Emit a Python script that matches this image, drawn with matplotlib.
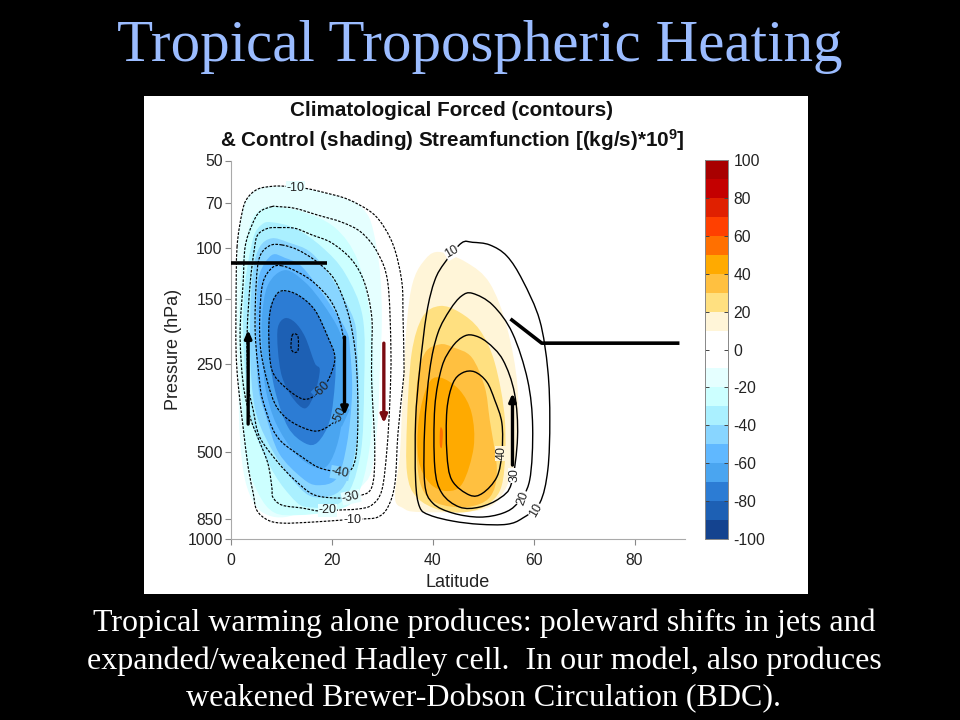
import numpy as np
import matplotlib
matplotlib.use('Agg')
import matplotlib.pyplot as plt
from matplotlib.patches import Rectangle, PathPatch
from matplotlib.path import Path
from matplotlib.colors import ListedColormap, BoundaryNorm
from matplotlib.cm import ScalarMappable

# ---- data: (latitude, pressure hPa) ----
# dashed contours (negative streamfunction)
cn10 = [(1.2,99),(2.2,75.5),(3.2,67.5),(5.3,62.7),(8.3,61.3),(10.7,61.3),(14.7,62.3),(18.6,64.5),(23.2,68),(27.9,75.5),(30.5,85.5),(32.5,101.5),(33.9,132),(34.1,172),(34.3,256),(34.1,291),(33.1,432),(32.5,642),(31.1,775),(29.1,839),(25.9,852),(22,859),(16,873),(10.3,880),(7.3,859),(5.1,794),(4.4,694),(3.4,565),(2.4,412),(1.4,291),(1.0,224),(1.0,151)]
cn20 = [(8.1,72),(5.7,75),(4.2,83),(2.8,99),(2.4,132),(1.8,196),(2.4,291),(3.8,381),(5.3,446),(7.3,548),(8.1,663),(8.3,717),(10.1,763),(14.1,781),(17.6,800),(21,794),(25.1,787),(27.9,763),(29.9,678),(30.9,494),(31.5,333),(31.7,224),(31.1,132),(29.1,104),(25.9,88.5),(22,81.5),(17.2,77),(12.7,73),(9.3,72)]
cn30 = [(9.7,85),(7.3,85.5),(5.3,90),(4.6,101.5),(3.8,132),(3.2,196),(3.4,291),(4.4,360),(5.7,446),(9.3,544),(12.7,627),(16.6,705),(22,722),(25.1,711),(27.9,663),(28.5,494),(27.9,291),(27.9,224),(27.9,172),(26.5,132),(24,110),(20,96),(16,90),(12.7,85.5)]
cn40 = [(10.1,97.5),(7.7,98),(5.7,107),(5,132),(4.8,196),(5.7,291),(6.3,333),(8.1,412),(10.1,464),(14.1,522),(17.2,565),(20.2,583),(23.2,587),(24.6,535),(25.1,432),(25.1,307),(24.6,224),(23.2,167),(20.6,129),(17.2,112),(13.3,101.5)]
cn50 = [(10.1,115),(8.1,117),(6.3,132),(5.7,172),(5.9,224),(7.3,291),(9.1,352),(12.1,396),(16.6,425),(19.6,406),(21.4,375),(22.4,333),(22.6,256),(22,191),(20,154),(16.6,132),(13.3,121)]
cn60 = [(10.3,140),(8.7,147),(7.7,167),(7.5,202),(8.1,262),(10.7,300),(14.3,330),(17,319),(18,307),(19.6,276),(20.6,237),(19.2,202),(16.6,163),(13.3,145)]
cn70 = [(12.1,200),(12.7,197),(13.3,202),(13.3,224),(12.5,228),(11.9,220)]

# solid contours (positive streamfunction)
cp10 = [(45.7,96),(47.9,95.5),(51.3,97.5),(54.7,106.5),(57.8,129),(61.2,177),(62.8,262),(63.2,390),(62.8,578),(61.2,751),(57.8,846),(54.7,888),(49.3,888),(44,866),(39.4,826),(37.4,775),(36.6,627),(36.6,390),(37.4,262),(38.8,167),(40.4,129),(42.4,112)]
cp20 = [(47.9,143),(45.7,146),(43.4,163),(41,196),(39.4,262),(38.4,412),(38.4,642),(40,751),(44,813),(49.3,839),(53.9,813),(56.8,751),(59.2,627),(59.8,412),(58.8,284),(55.8,196),(51.9,157)]
cp30 = [(47.9,199),(45.9,202),(43.8,219),(41.8,256),(40.4,352),(40.4,565),(41.8,694),(45.3,775),(49.3,775),(53.3,722),(55.6,642),(56.8,446),(56.2,315),(53.9,242),(50.7,210)]
cp40 = [(48.3,266),(45.9,268),(44,291),(42.8,360),(42.8,506),(43.8,627),(47.3,705),(49.9,694),(52.7,611),(53.7,506),(53.7,399),(52.3,333),(50.7,288)]

# shaded bands of the control run
b10 = [(3.2,67.5),(5.3,62.7),(8.3,61.3),(14.7,62.3),(23.2,68),(25.9,72.5),(27.9,83),(29.5,119),(29.9,177),(29.5,262),(29.1,390),(27.9,578),(25.5,668),(21.6,763),(15.6,794),(10.7,839),(7.3,826),(4.8,763),(2.8,627),(1.8,456),(1.4,284),(1.0,151),(1.4,94),(2.2,75.5)]
b20 = [(8.1,72),(5.3,75),(3.8,83),(2.4,107),(1.6,172),(2.0,291),(3.0,522),(5.5,700),(8.6,810),(13.3,826),(20,800),(24.8,720),(27.4,494),(28.2,291),(27.6,172),(25.1,110),(20.6,85),(14.1,75)]
b30 = [(8.1,81.5),(6.1,83),(4.4,92.5),(2.8,132),(2.4,196),(3.0,291),(4.4,412),(7.8,565),(11.5,700),(15,775),(22,740),(25.6,520),(26.4,291),(26.1,172),(22.6,122),(18,99),(12.7,85.5)]
b40 = [(8.1,92.5),(5.7,99),(4.4,119),(3.8,172),(4.0,276),(5.2,381),(8.5,506),(12.7,640),(16.6,717),(22,670),(24.8,480),(25.3,300),(25,224),(24.4,177),(20.6,132),(16,104),(11.3,95.5)]
b50 = [(8.1,105.6),(5.7,122),(5.1,151),(5.0,224),(5.5,307),(7,381),(9.5,506),(14.1,616),(17.2,652),(21,616),(23,468),(24,315),(23.6,224),(22.8,191),(18.6,147),(14.1,116),(10.7,108)]
b55 = [(10.7,119),(7.3,134),(6.1,177),(6.3,242),(6.9,307),(8.9,399),(12.7,506),(16.6,565),(19.2,556),(21.3,456),(22.4,333),(22.2,224),(21.4,191),(18.2,155),(14.7,131)]
b60 = [(10.1,141),(8.3,151),(7.5,172),(7.5,224),(8.7,307),(11.3,412),(14.7,468),(17.2,464),(19.6,390),(20.6,291),(20.6,237),(19.2,202),(16.6,163),(13.3,145)]
b70 = [(10.7,174),(9.3,187),(9.3,224),(10.1,276),(12.1,325),(14.7,355),(16.6,315),(17.6,262),(16.6,248),(14.7,202),(12.7,180)]
o10 = [(41,103),(38,112),(36,132),(34.9,177),(34.1,300),(33.5,506),(32.5,717),(34.1,781),(37.4,806),(49.3,794),(53.9,694),(56.6,506),(56.8,300),(54.7,187),(51.3,132),(46.7,112)]
o20 = [(41.4,158),(38,172),(35.8,230),(34.9,390),(34.9,592),(36.8,717),(41.4,794),(46.7,806),(51.3,751),(53.9,627),(54.3,390),(52.3,248),(49.3,191),(45.3,166)]
o30 = [(41.4,214),(38.4,230),(36.8,300),(36.8,506),(37.8,663),(40.8,751),(46.7,775),(51.3,717),(52.7,578),(51.3,390),(50.3,300),(47.7,237),(44,219)]
o40 = [(41.4,278),(39,295),(37.2,390),(37.2,535),(39.4,642),(42.8,683),(45.9,642),(48.1,483),(47.7,369),(45.3,307)]
o50 = [(41.6,412),(42,429),(41.8,483),(41.4,475),(41.4,429)]

# colour scale, bottom to top
cbar_levels = list(range(-100, 101, 10))
cbar_colors = ['#14438f','#1d60b4','#2c7cd4','#4aa5f0','#60b8ff','#88d5ff','#aaf0ff','#ccffff','#e5ffff','#ffffff',
               '#ffffff','#fff5d8','#ffe080','#ffc040','#ffaa00','#ff7000','#ff4000','#e02000','#c40000','#a80000']
cbar_ticks = list(range(-100, 101, 20))

# contour labels: text, lat, pressure, rotation, background
contour_labels = [
    ('-10', 12.7, 62, 0, '#e5ffff'),
    ('-60', 18.0, 307, 45, '#2c7cd4'),
    ('-50', 21.6, 375, 65, '#4aa5f0'),
    ('-40', 21.6, 592, -10, '#88d5ff'),
    ('-30', 23.8, 717, 12, '#e5ffff'),
    ('-20', 19.2, 794, 0, '#e5ffff'),
    ('-10', 24.0, 859, 0, '#ffffff'),
    ('10', 43.8, 103, 30, '#ffffff'),
    ('40', 53.7, 506, 90, '#fff5d8'),
    ('30', 56.2, 602, 90, '#ffffff'),
    ('20', 57.8, 722, 70, '#ffffff'),
    ('10', 60.4, 794, 60, '#ffffff'),
]

# jet bars and arrows drawn over the plot
bar_lat = [0, 19]
bar_p = [112.5, 112.5]
jet_lat = [55.4, 61.6, 88.9]
jet_p = [175, 212, 212]
arrows = [
    (3.4, 402, 3.4, 191, 'black'),
    (22.5, 202, 22.5, 375, 'black'),
    (30.3, 212, 30.3, 399, '#7a0a10'),
    (55.8, 556, 55.8, 315, 'black'),
]

yticks = [50, 70, 100, 150, 250, 500, 850, 1000]
xticks = [0, 20, 40, 60, 80]

title = 'Tropical Tropospheric Heating'
plot_title = ['Climatological Forced (contours)', '& Control (shading) Streamfunction [(kg/s)*10$^{9}$]']
caption = ['Tropical warming alone produces: poleward shifts in jets and',
           'expanded/weakened Hadley cell.  In our model, also produces',
           'weakened Brewer-Dobson Circulation (BDC).']

# ---- figure ----
plt.rcParams['font.family'] = ['Liberation Sans', 'DejaVu Sans']
plt.rcParams['mathtext.default'] = 'regular'
plt.rcParams['axes.unicode_minus'] = False

W, H = 960, 720
fig = plt.figure(figsize=(9.6, 7.2), dpi=100, facecolor='black')


def fx(px):
    return px / W


def fy(py):
    return 1 - py / H


def smooth_path(poly):
    # closed bezier through the read points, done in log-pressure so it looks right on the axis
    pts = np.array(poly, dtype=float)
    pts[:, 1] = np.log10(pts[:, 1])
    n = len(pts)
    verts = [pts[0]]
    codes = [Path.MOVETO]
    for i in range(n):
        p0, p1, p2, p3 = pts[(i - 1) % n], pts[i], pts[(i + 1) % n], pts[(i + 2) % n]
        verts += [p1 + (p2 - p0) / 6, p2 - (p3 - p1) / 6, p2]
        codes += [Path.CURVE4] * 3
    verts = np.array(verts)
    verts[:, 1] = 10 ** verts[:, 1]
    return Path(verts, codes)


fig.add_artist(Rectangle((fx(144), fy(594)), 664 / W, 498 / H, transform=fig.transFigure,
                         facecolor='white', edgecolor='none', zorder=-1))

fig.text(fx(480), fy(47), title, color='#9bbcff', family='Liberation Serif', fontsize=42.5, ha='center', va='center')
for txt, py in zip(plot_title, [110, 140]):
    fig.text(fx(452), fy(py), txt, color='#111111', fontweight='bold', fontsize=14.9, ha='center', va='center')
for txt, py in zip(caption, [623, 661, 699]):
    fig.text(fx(484), fy(py), txt, color='white', family='Liberation Serif', fontsize=23, ha='center', va='center')

ax = fig.add_axes([fx(231), fy(539.3), (685 - 231) / W, (539.3 - 160.5) / H])
ax.set_yscale('log')
ax.set_xlim(0, 90)
ax.set_ylim(1000, 50)

color_of = dict(zip(cbar_levels[:-1], cbar_colors))
bands = [(b10, -20), (b20, -30), (b30, -40), (b40, -50), (b50, -60), (b55, -70), (b60, -80), (b70, -90),
         (o10, 10), (o20, 20), (o30, 30), (o40, 40), (o50, 50)]
for poly, lev in bands:
    ax.add_patch(PathPatch(smooth_path(poly), facecolor=color_of[lev], edgecolor='none', zorder=1))

for poly in [cn10, cn20, cn30, cn40, cn50, cn60, cn70]:
    ax.add_patch(PathPatch(smooth_path(poly), fill=False, edgecolor='black', lw=0.85, ls=(0, (2.2, 1.2)), zorder=3))
for poly in [cp10, cp20, cp30, cp40]:
    ax.add_patch(PathPatch(smooth_path(poly), fill=False, edgecolor='black', lw=1.0, zorder=3))

for txt, lat, p, rot, bg in contour_labels:
    ax.text(lat, p, txt, fontsize=9, rotation=rot, ha='center', va='center', color='#222222', zorder=4,
            rotation_mode='anchor', bbox=dict(facecolor=bg, edgecolor='none', pad=0.4))

ax.plot(bar_lat, bar_p, color='black', lw=2.6, zorder=5, solid_capstyle='butt', clip_on=False)
ax.plot(jet_lat, jet_p, color='black', lw=2.6, zorder=5, solid_capstyle='butt')
for lat0, p0, lat1, p1, col in arrows:
    ax.annotate('', xy=(lat1, p1), xytext=(lat0, p0), zorder=5,
                arrowprops=dict(arrowstyle='-|>,head_length=0.5,head_width=0.22', color=col, lw=2.4,
                                mutation_scale=9, shrinkA=0, shrinkB=0))

ax.set_xticks(xticks)
ax.set_yticks(yticks)
ax.set_yticklabels([str(v) for v in yticks])
ax.minorticks_off()
ax.tick_params(axis='both', labelsize=11.3, colors='#888888', labelcolor='#222222', length=4, width=0.8, pad=2)
ax.tick_params(axis='x', pad=6)
ax.set_xlabel('Latitude', fontsize=13, color='#222222', labelpad=4)
ax.set_ylabel('Pressure (hPa)', fontsize=13, color='#222222', labelpad=4)
for side in ['top', 'right']:
    ax.spines[side].set_visible(False)
for side in ['left', 'bottom']:
    ax.spines[side].set_color('#aaaaaa')

cax = fig.add_axes([fx(705), fy(539), 23 / W, (539 - 160) / H])
norm = BoundaryNorm(cbar_levels, len(cbar_colors))
cb = fig.colorbar(ScalarMappable(norm=norm, cmap=ListedColormap(cbar_colors)), cax=cax,
                  ticks=cbar_ticks, spacing='uniform')
cb.ax.minorticks_off()
cb.ax.tick_params(labelsize=11.3, direction='in', length=3, width=0.7, color='#444444',
                  labelcolor='#222222', left=True, right=True, pad=4)
cb.outline.set_edgecolor('#888888')
cb.outline.set_linewidth(0.7)

fig.savefig('out.png', dpi=100, facecolor='black')
